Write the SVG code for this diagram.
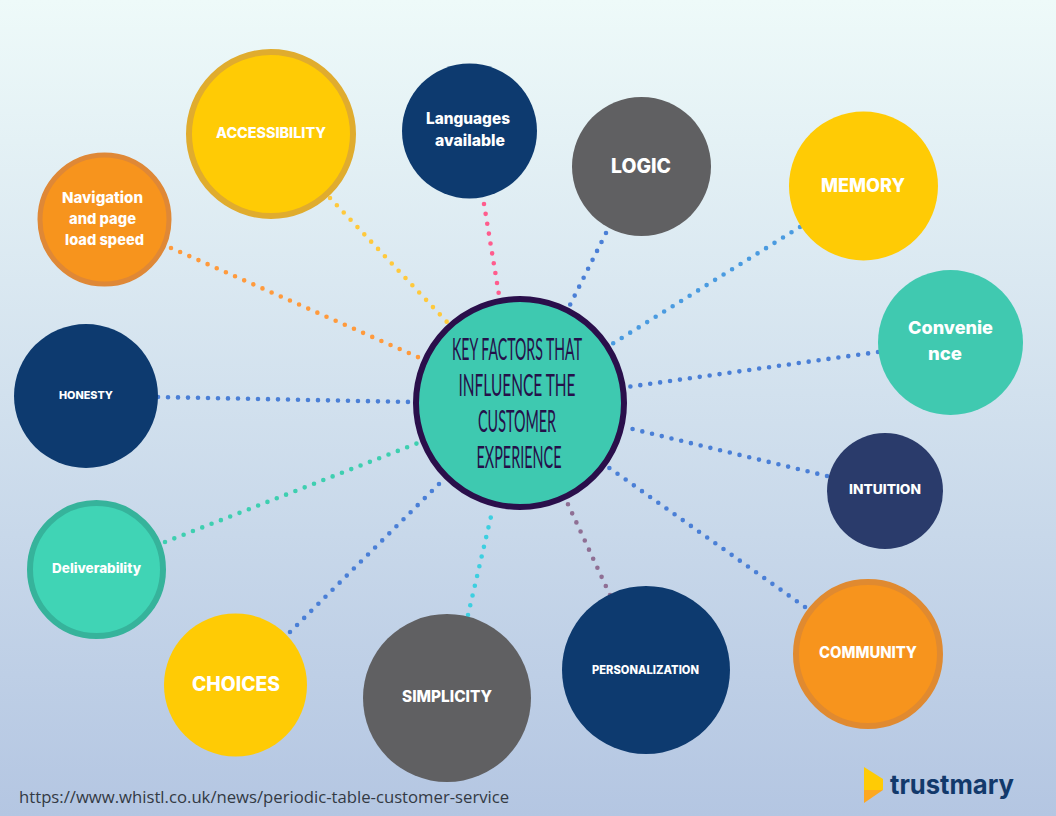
<svg xmlns="http://www.w3.org/2000/svg" width="1056" height="816" viewBox="0 0 1056 816">
<style>
.c{fill:none;stroke-width:4.6;stroke-linecap:round;stroke-dasharray:0 10}
.t{font-family:"Inter","Lato",sans-serif;font-weight:800;fill:#fff;text-anchor:middle}
.k{font-family:"Liberation Sans Narrow","Lato",sans-serif;fill:#25104a;text-anchor:middle;font-size:30px;text-transform:uppercase}
.y{fill:#FFCB05}.n{fill:#0D3A6F}.g{fill:#606062}.o{fill:#F7941D}
</style>
<defs><linearGradient id="bg" x1="0" y1="0" x2="0" y2="1"><stop offset="0" stop-color="#EEFAF9"/><stop offset="1" stop-color="#B4C6E2"/></linearGradient></defs>
<rect width="1056" height="816" fill="url(#bg)"/>
<g id="connectors">
<path class="c" stroke="#FF9A3C" d="M171 248L420 358"/>
<path class="c" stroke="#FFC93C" d="M330 198L447 322"/>
<path class="c" stroke="#FF5C8D" d="M484 204L499 295"/>
<path class="c" stroke="#4A7FD6" d="M606 233L570 305"/>
<path class="c" stroke="#4A9BE0" d="M800 227L612 344"/>
<path class="c" stroke="#4A7FD6" d="M878 352L627 387"/>
<path class="c" stroke="#4A7FD6" d="M827 476L624 427"/>
<path class="c" stroke="#4A7FD6" d="M805 607L608 467"/>
<path class="c" stroke="#8F6F94" d="M610 595L566 500"/>
<path class="c" stroke="#3DCFE0" d="M468 615L493 508"/>
<path class="c" stroke="#4A7FD6" d="M290 632L443 480"/>
<path class="c" stroke="#3ECFB0" d="M165 542L418 443"/>
<path class="c" stroke="#4A7FD6" d="M158 397L412 402"/>
</g>
<g id="accessibility"><circle class="y" cx="271" cy="134" r="82" stroke="#E0AC2E" stroke-width="6"/><text class="t" x="271" y="138" font-size="14" textLength="110" lengthAdjust="spacingAndGlyphs">ACCESSIBILITY</text></g>
<g id="languages"><circle class="n" cx="469.5" cy="131" r="67.5"/><text class="t" x="468" y="124" font-size="15.500" textLength="84" lengthAdjust="spacingAndGlyphs">Languages</text><text class="t" x="470" y="146" font-size="15.500" textLength="70" lengthAdjust="spacingAndGlyphs">available</text></g>
<g id="logic"><circle class="g" cx="641.5" cy="166.5" r="69.5"/><text class="t" x="641" y="173" font-size="20" textLength="60" lengthAdjust="spacingAndGlyphs">LOGIC</text></g>
<g id="memory"><circle class="y" cx="863.5" cy="186" r="74.5"/><text class="t" x="863" y="191.500" font-size="18.500" textLength="84" lengthAdjust="spacingAndGlyphs">MEMORY</text></g>
<g id="convenience"><circle cx="950.5" cy="342.5" r="72.500" fill="#40C9B0"/><text class="t" x="950.500" y="334" font-size="18" textLength="85" lengthAdjust="spacingAndGlyphs">Convenie</text><text class="t" x="945" y="360" font-size="18" textLength="34" lengthAdjust="spacingAndGlyphs">nce</text></g>
<g id="intuition"><circle cx="885" cy="491" r="58" fill="#2A3B6B"/><text class="t" x="885" y="494" font-size="13.500" textLength="72" lengthAdjust="spacingAndGlyphs">INTUITION</text></g>
<g id="community"><circle class="o" cx="868" cy="654" r="72" stroke="#E08A30" stroke-width="6"/><text class="t" x="868" y="658" font-size="15.500" textLength="98" lengthAdjust="spacingAndGlyphs">COMMUNITY</text></g>
<g id="personalization"><circle class="n" cx="646" cy="670" r="84"/><text class="t" x="645.500" y="674" font-size="11.500" textLength="107" lengthAdjust="spacingAndGlyphs">PERSONALIZATION</text></g>
<g id="simplicity"><circle class="g" cx="447" cy="698" r="84"/><text class="t" x="447" y="702" font-size="15.500" textLength="90" lengthAdjust="spacingAndGlyphs">SIMPLICITY</text></g>
<g id="choices"><circle class="y" cx="235.5" cy="685" r="71.500"/><text class="t" x="236" y="691" font-size="19.500" textLength="88" lengthAdjust="spacingAndGlyphs">CHOICES</text></g>
<g id="deliverability"><circle cx="96.500" cy="569.500" r="66.500" fill="#40D4B5" stroke="#36B39B" stroke-width="6"/><text class="t" x="96.500" y="573" font-size="13.500" textLength="89" lengthAdjust="spacingAndGlyphs">Deliverability</text></g>
<g id="honesty"><circle class="n" cx="86" cy="396" r="72"/><text class="t" x="86" y="399" font-size="11" textLength="54" lengthAdjust="spacingAndGlyphs">HONESTY</text></g>
<g id="navigation"><circle class="o" cx="104.500" cy="219.500" r="64.500" stroke="#DF8836" stroke-width="5"/><text class="t" x="102.500" y="203" font-size="15" textLength="81" lengthAdjust="spacingAndGlyphs">Navigation</text><text class="t" x="102.500" y="224" font-size="15" textLength="67" lengthAdjust="spacingAndGlyphs">and page</text><text class="t" x="104.500" y="245" font-size="15" textLength="79" lengthAdjust="spacingAndGlyphs">load speed</text></g>
<g id="center"><circle cx="520" cy="403" r="104" fill="#3EC9B0" stroke="#2A0F4B" stroke-width="6"/>
<text class="k" x="517" y="360" textLength="130" lengthAdjust="spacingAndGlyphs">Key factors that</text>
<text class="k" x="517" y="396" textLength="117" lengthAdjust="spacingAndGlyphs">influence the</text>
<text class="k" x="517" y="432" textLength="78" lengthAdjust="spacingAndGlyphs">customer</text>
<text class="k" x="519" y="468" textLength="85" lengthAdjust="spacingAndGlyphs">experience</text></g>
<g id="source"><text x="19" y="803" font-family="'Open Sans','Noto Sans',sans-serif" font-size="16.700" fill="#333a44">https://www.whistl.co.uk/news/periodic-table-customer-service</text></g>
<g id="logo"><polygon points="864,767 883,779 883,790 864,790" fill="#FFCB05"/><polygon points="864,790 883,790 864,803" fill="#FDA821"/><text x="890" y="794" font-family="'Inter','Lato',sans-serif" font-weight="700" font-size="26" fill="#12396B" textLength="124" lengthAdjust="spacingAndGlyphs">trustmary</text></g>
</svg>
